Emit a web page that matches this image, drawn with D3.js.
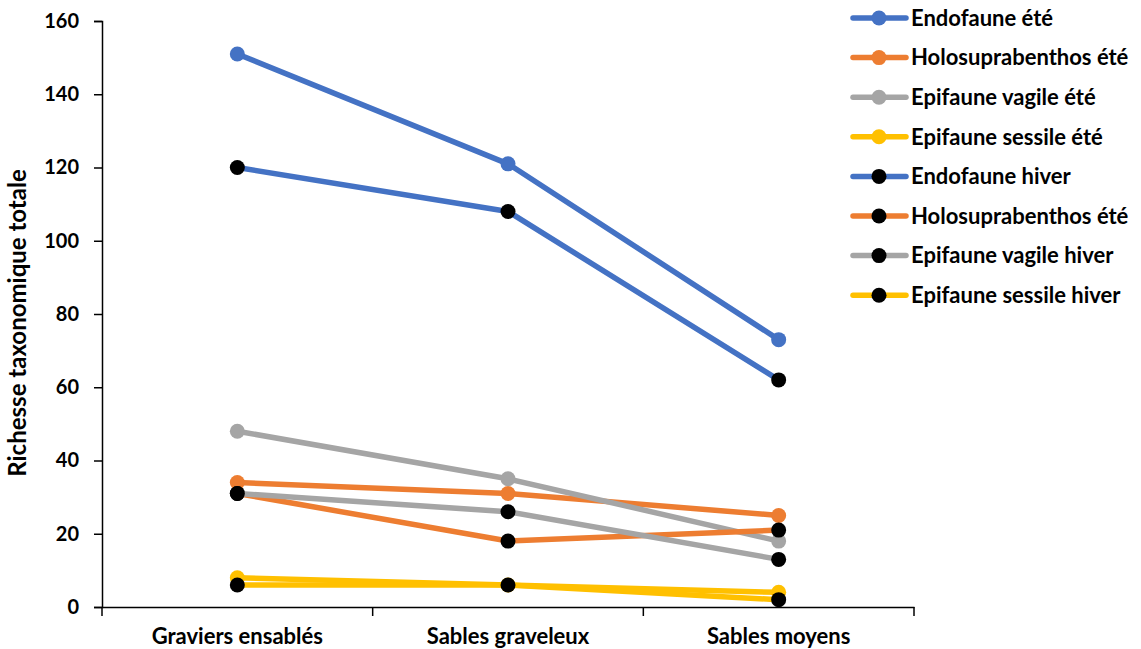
<!DOCTYPE html>
<html><head><meta charset="utf-8">
<script src="https://cdn.jsdelivr.net/npm/d3@7"></script>
<style>body{margin:0;background:#fff}svg{display:block}text{font-family:Lato,"Open Sans",sans-serif;font-weight:bold;fill:#000}</style>
</head><body>
<script>
const categories = ["Graviers ensablés","Sables graveleux","Sables moyens"];
const seriesNames = ["Endofaune été","Holosuprabenthos été","Epifaune vagile été","Epifaune sessile été","Endofaune hiver","Holosuprabenthos été","Epifaune vagile hiver","Epifaune sessile hiver"];
const endofauneEte = [151,121,73];
const holoEte = [34,31,25];
const vagileEte = [48,35,18];
const sessileEte = [8,6,4];
const endofauneHiver = [120,108,62];
const holoHiver = [31,18,21];
const vagileHiver = [31,26,13];
const sessileHiver = [6,6,2];
const yTicks = [0,20,40,60,80,100,120,140,160];
const lineColors = ["#4472C4","#ED7D31","#A5A5A5","#FFC000","#4472C4","#ED7D31","#A5A5A5","#FFC000"];
const markerColors = ["#4472C4","#ED7D31","#A5A5A5","#FFC000","#000","#000","#000","#000"];
const allValues = [endofauneEte,holoEte,vagileEte,sessileEte,endofauneHiver,holoHiver,vagileHiver,sessileHiver];

const W=1141,H=649;
const svg=d3.select("body").append("svg").attr("width",W).attr("height",H);
const x=d3.scaleBand().domain(categories).range([102,914]);
const y=d3.scaleLinear().domain([0,160]).range([607,21]);

// axes
const ya=svg.append("g").attr("transform","translate(102,0)")
  .call(d3.axisLeft(y).tickValues(yTicks).tickSize(8).tickPadding(15));
ya.selectAll("text").style("font-size","20px");
const xa=svg.append("g").attr("transform","translate(0,607)")
  .call(d3.axisBottom(x).tickSize(0).tickPadding(21));
xa.selectAll("text").style("font-size","22px");
xa.selectAll(".tickb").data(d3.range(categories.length+1)).enter().append("line")
  .attr("x1",i=>x.range()[0]+i*x.step()).attr("x2",i=>x.range()[0]+i*x.step())
  .attr("y1",0).attr("y2",9).attr("stroke","#000").attr("stroke-width",1.5);
svg.selectAll(".domain").attr("stroke","#000").attr("stroke-width",1.5);
svg.selectAll(".tick line").attr("stroke","#000").attr("stroke-width",1.5);

svg.append("text").attr("transform","translate(26,323) rotate(-90)").attr("text-anchor","middle")
  .style("font-size","24px").text("Richesse taxonomique totale");

const line=d3.line().x((d,i)=>x(categories[i])+x.bandwidth()/2).y(d=>y(d));
allValues.forEach((vals,s)=>{
  const g=svg.append("g");
  g.append("path").attr("d",line(vals)).attr("fill","none").attr("stroke",lineColors[s]).attr("stroke-width",5.5).attr("stroke-linejoin","round").attr("stroke-linecap","round");
  g.selectAll("circle").data(vals).enter().append("circle")
    .attr("cx",(d,i)=>x(categories[i])+x.bandwidth()/2).attr("cy",d=>y(d)).attr("r",7.5).attr("fill",markerColors[s]);
});

// legend
const leg=svg.append("g");
seriesNames.forEach((n,s)=>{
  const yy=18+s*39.6;
  leg.append("line").attr("x1",853).attr("x2",906).attr("y1",yy).attr("y2",yy).attr("stroke",lineColors[s]).attr("stroke-width",5.5).attr("stroke-linecap","round");
  leg.append("circle").attr("cx",879).attr("cy",yy).attr("r",7.5).attr("fill",markerColors[s]);
  leg.append("text").attr("x",911).attr("y",yy).attr("dy","0.35em").style("font-size","22px").text(n);
});
</script>
</body></html>
